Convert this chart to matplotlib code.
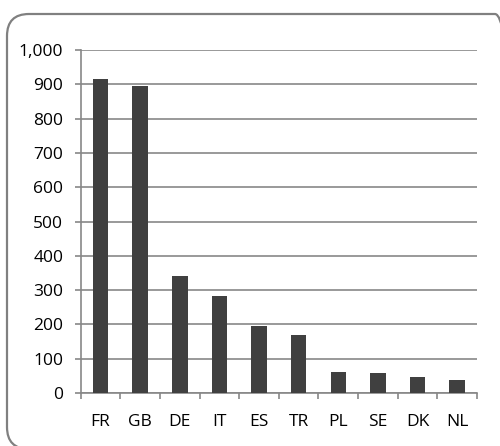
import matplotlib.pyplot as plt
from matplotlib.patches import FancyBboxPatch
from matplotlib.ticker import FuncFormatter
import numpy as np

countries = ['FR', 'GB', 'DE', 'IT', 'ES', 'TR', 'PL', 'SE', 'DK', 'NL']
values = [914, 895, 341, 282, 196, 169, 60, 58, 47, 38]

plt.rcParams['font.family'] = ['Open Sans', 'DejaVu Sans']
grey = '#878787'

fig = plt.figure(figsize=(5, 4.46), dpi=100)
ax = fig.add_axes([0.1614, 0.1188, 0.7926, 0.7691])

x = np.arange(len(countries))
ax.bar(x, values, width=0.39, color='#404040', zorder=3)

ax.set_xlim(-0.5, len(countries) - 0.5)
ax.set_ylim(0, 1000)
ax.set_yticks(range(0, 1001, 100))
ax.yaxis.set_major_formatter(FuncFormatter(lambda v, p: f'{int(v):,}'))
ax.set_xticks(x)
ax.set_xticklabels(countries)
ax.set_xticks(np.arange(-0.5, len(countries)), minor=True)

ax.grid(axis='y', color=grey, linewidth=1.2, zorder=0)
for s in ['top', 'right']:
    ax.spines[s].set_visible(False)
for s in ['left', 'bottom']:
    ax.spines[s].set_color(grey)
    ax.spines[s].set_linewidth(1.2)

ax.tick_params(axis='y', length=4.5, color=grey, width=1.2, labelsize=12.5, pad=8)
ax.tick_params(axis='x', which='major', length=0, labelsize=12.5, pad=15)
ax.tick_params(axis='x', which='minor', length=4.5, color=grey, width=1.2)

# rounded outer frame, partly running off the right and bottom edges
box = FancyBboxPatch((0.07, -0.03), 5.1, 4.35,
                     boxstyle='round,pad=0,rounding_size=0.22',
                     transform=fig.dpi_scale_trans, facecolor='none',
                     edgecolor='#808080', linewidth=1.6)
fig.patches.append(box)

fig.savefig('out.png', dpi=100)
